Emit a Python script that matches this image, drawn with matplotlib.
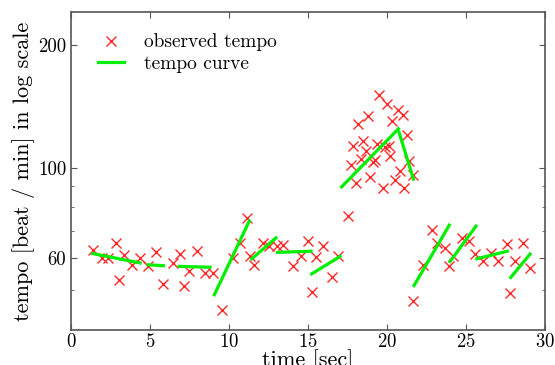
import matplotlib
matplotlib.use("Agg")
import matplotlib.pyplot as plt
from matplotlib.ticker import FixedLocator, NullFormatter

# observed tempo (time in sec, tempo in beat/min)
obs_time = [1.37, 1.94, 2.36, 2.85, 3.06, 3.35, 3.84, 4.37, 4.89, 5.38,
            5.84, 6.43, 6.90, 7.15, 7.49, 7.99, 8.48, 9.01, 9.54, 10.23,
            10.70, 11.16, 11.33, 11.58, 12.13, 12.55, 13.04, 13.44, 14.03, 14.54,
            14.98, 15.23, 15.51, 15.97, 16.50, 16.92, 17.53, 17.70, 17.87, 18.04,
            18.18, 18.34, 18.50, 18.67, 18.82, 18.92, 19.09, 19.24, 19.35, 19.51,
            19.77, 19.87, 19.98, 20.12, 20.18, 20.30, 20.51, 20.72, 20.82, 21.00,
            21.08, 21.25, 21.41, 21.63, 21.67, 22.30, 22.83, 23.18, 23.67, 23.94,
            24.20, 24.73, 25.21, 25.57, 26.10, 26.56, 27.04, 27.58, 27.78, 28.10,
            28.63, 29.05]
obs_tempo = [62.7, 60.1, 60.1, 65.4, 53.1, 61.2, 57.6, 60.1, 57.3, 62.0,
             51.8, 58.4, 61.6, 51.2, 55.7, 62.6, 55.1, 55.1, 44.8, 60.1,
             65.4, 75.4, 60.9, 57.8, 65.4, 64.2, 64.2, 64.6, 57.5, 60.6,
             66.3, 49.7, 60.3, 64.2, 54.1, 60.6, 76.1, 101.7, 113.3, 92.0,
             128.2, 105.1, 116.6, 110.1, 133.6, 95.0, 103.5, 104.5, 114.4, 150.6,
             89.1, 112.2, 143.0, 113.3, 107.1, 130.1, 93.4, 138.8, 98.0, 134.4,
             89.1, 120.0, 104.0, 96.1, 47.1, 57.8, 70.3, 65.4, 63.6, 57.3,
             60.6, 67.3, 66.1, 61.4, 58.9, 61.8, 59.2, 65.0, 49.2, 59.2,
             65.4, 56.7]

# tempo curve: piecewise segments (t0, t1, tempo0, tempo1)
seg_t0 = [1.37, 4.89, 6.85, 9.07, 11.44, 13.08, 15.23, 17.13, 20.76, 21.71, 23.99, 25.68, 27.83]
seg_t1 = [4.37, 5.84, 8.80, 11.28, 12.97, 15.19, 17.03, 20.72, 21.67, 23.94, 25.63, 27.61, 29.05]
seg_v0 = [61.6, 57.8, 57.3, 48.8, 59.8, 62.0, 54.9, 89.8, 122.2, 51.4, 58.9, 59.8, 53.8]
seg_v1 = [58.4, 57.5, 57.0, 74.0, 67.3, 62.4, 60.6, 124.6, 93.8, 72.3, 71.9, 62.4, 61.4]

plt.rcParams["font.family"] = ["cmr10", "DejaVu Serif"]
plt.rcParams["mathtext.fontset"] = "cm"
plt.rcParams["axes.unicode_minus"] = False
plt.rcParams["axes.formatter.use_mathtext"] = True

fig = plt.figure(figsize=(5.55, 3.65), dpi=100)
ax = fig.add_axes([0.128, 0.096, 0.854, 0.871])

ax.plot(obs_time, obs_tempo, "x", color="#ff2a2a", markersize=7.5,
        markeredgewidth=1.0, label="observed tempo")
for i in range(len(seg_t0)):
    ax.plot([seg_t0[i], seg_t1[i]], [seg_v0[i], seg_v1[i]], "-", color="#00ee00",
            linewidth=2.3, label="tempo curve" if i == 0 else None)

ax.set_yscale("log")
ax.set_xlim(0, 30)
ax.set_ylim(40, 241)
ax.yaxis.set_major_locator(FixedLocator([60, 100, 200]))
ax.yaxis.set_minor_locator(FixedLocator([50, 70, 80, 90]))
ax.yaxis.set_minor_formatter(NullFormatter())
ax.set_yticklabels(["60", "100", "200"])
ax.set_xticks([0, 5, 10, 15, 20, 25, 30])

for s in ax.spines.values():
    s.set_color("#555555")
    s.set_linewidth(1.2)
ax.tick_params(which="both", direction="in", top=True, right=True,
               color="#555555", labelsize=13.5)
ax.tick_params(axis="x", pad=2)
ax.tick_params(which="major", length=4)
ax.tick_params(which="minor", length=2.5)

ax.set_xlabel("time [sec]", fontsize=16, labelpad=-1)
ax.set_ylabel("tempo [beat / min] in log scale", fontsize=16, labelpad=2)

ax.legend(loc="upper left", bbox_to_anchor=(0.012, 1.0), frameon=False,
          numpoints=1, fontsize=14, handlelength=1.35, handletextpad=1.0,
          borderaxespad=0.6, borderpad=0.5, labelspacing=0.2)

fig.savefig("out.png", dpi=100)
